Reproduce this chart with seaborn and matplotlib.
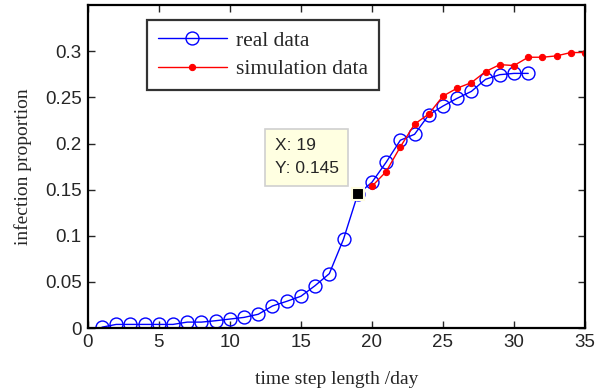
import numpy as np
import pandas as pd
import matplotlib
matplotlib.use("Agg")
import matplotlib.pyplot as plt
import seaborn as sns

real_x = list(range(1, 32))
real_y = [0.001, 0.004, 0.004, 0.004, 0.004, 0.004, 0.0065, 0.0065, 0.008, 0.0098,
          0.0116, 0.015, 0.024, 0.029, 0.0345, 0.046, 0.059, 0.0964, 0.145, 0.158,
          0.1797, 0.2036, 0.21, 0.231, 0.2406, 0.249, 0.2565, 0.2696, 0.2746, 0.276, 0.276]
sim_x = list(range(20, 36))
sim_y = [0.1536, 0.1696, 0.1964, 0.221, 0.232, 0.2514, 0.260, 0.266, 0.278, 0.2855,
         0.2845, 0.2935, 0.2935, 0.295, 0.2986, 0.2986]
tip_x, tip_y = 19, 0.145

sns.set_style("ticks")
fig = plt.figure(figsize=(5.97, 3.92), dpi=100)
ax = fig.add_axes([0.147, 0.163, 0.833, 0.824])

real_df = pd.DataFrame({"x": real_x, "y": real_y})
sim_df = pd.DataFrame({"x": sim_x, "y": sim_y})

sns.lineplot(data=real_df, x="x", y="y", ax=ax, color="#0000ff", lw=1.0,
             marker="o", markersize=9.3, markerfacecolor="none",
             markeredgecolor="#0000ff", markeredgewidth=1.0, label="real data")
sns.lineplot(data=sim_df, x="x", y="y", ax=ax, color="#ff0000", lw=1.0,
             marker="o", markersize=4.5, markerfacecolor="#ff0000",
             markeredgecolor="#ff0000", label="simulation data")

# data tip
ax.plot([tip_x], [tip_y], marker="s", markersize=8, color="black",
        markeredgecolor="#fffde0", markeredgewidth=1.5, zorder=5)
ax.annotate(f"X: {tip_x}\nY: {tip_y}", xy=(tip_x, tip_y), xytext=(-83, 18),
            textcoords="offset pixels", fontsize=12.5, family="Liberation Sans",
            linespacing=1.65, va="bottom", ha="left",
            bbox=dict(boxstyle="square,pad=0.55", fc="#ffffe1", ec="#d0d0d0", lw=1.2))

ax.set_xlim(0, 35)
ax.set_ylim(0, 0.35)
ax.set_xticks(np.arange(0, 36, 5))
ax.set_yticks(np.arange(0, 0.31, 0.05))
ax.set_yticklabels(["0", "0.05", "0.1", "0.15", "0.2", "0.25", "0.3"])
ax.tick_params(direction="in", top=True, right=True, length=5, width=1,
               labelsize=13.5, pad=4.5)
for lbl in ax.get_xticklabels() + ax.get_yticklabels():
    lbl.set_family("Liberation Sans")
for s in ax.spines.values():
    s.set_visible(True)
    s.set_linewidth(1.6)
    s.set_color("black")

ax.set_xlabel("time step length /day", family="Liberation Serif", fontsize=14, labelpad=14)
ax.set_ylabel("infection proportion", family="Liberation Serif", fontsize=14, labelpad=9)

leg = ax.legend(loc="upper left", bbox_to_anchor=(0.119, 0.954), borderaxespad=0,
                prop={"family": "Liberation Serif", "size": 15.5},
                frameon=True, fancybox=False, edgecolor="black",
                handlelength=3.2, handletextpad=0.45, borderpad=0.5,
                labelspacing=0.4)
leg.get_frame().set_linewidth(1.6)

fig.savefig("out.png", dpi=100)
